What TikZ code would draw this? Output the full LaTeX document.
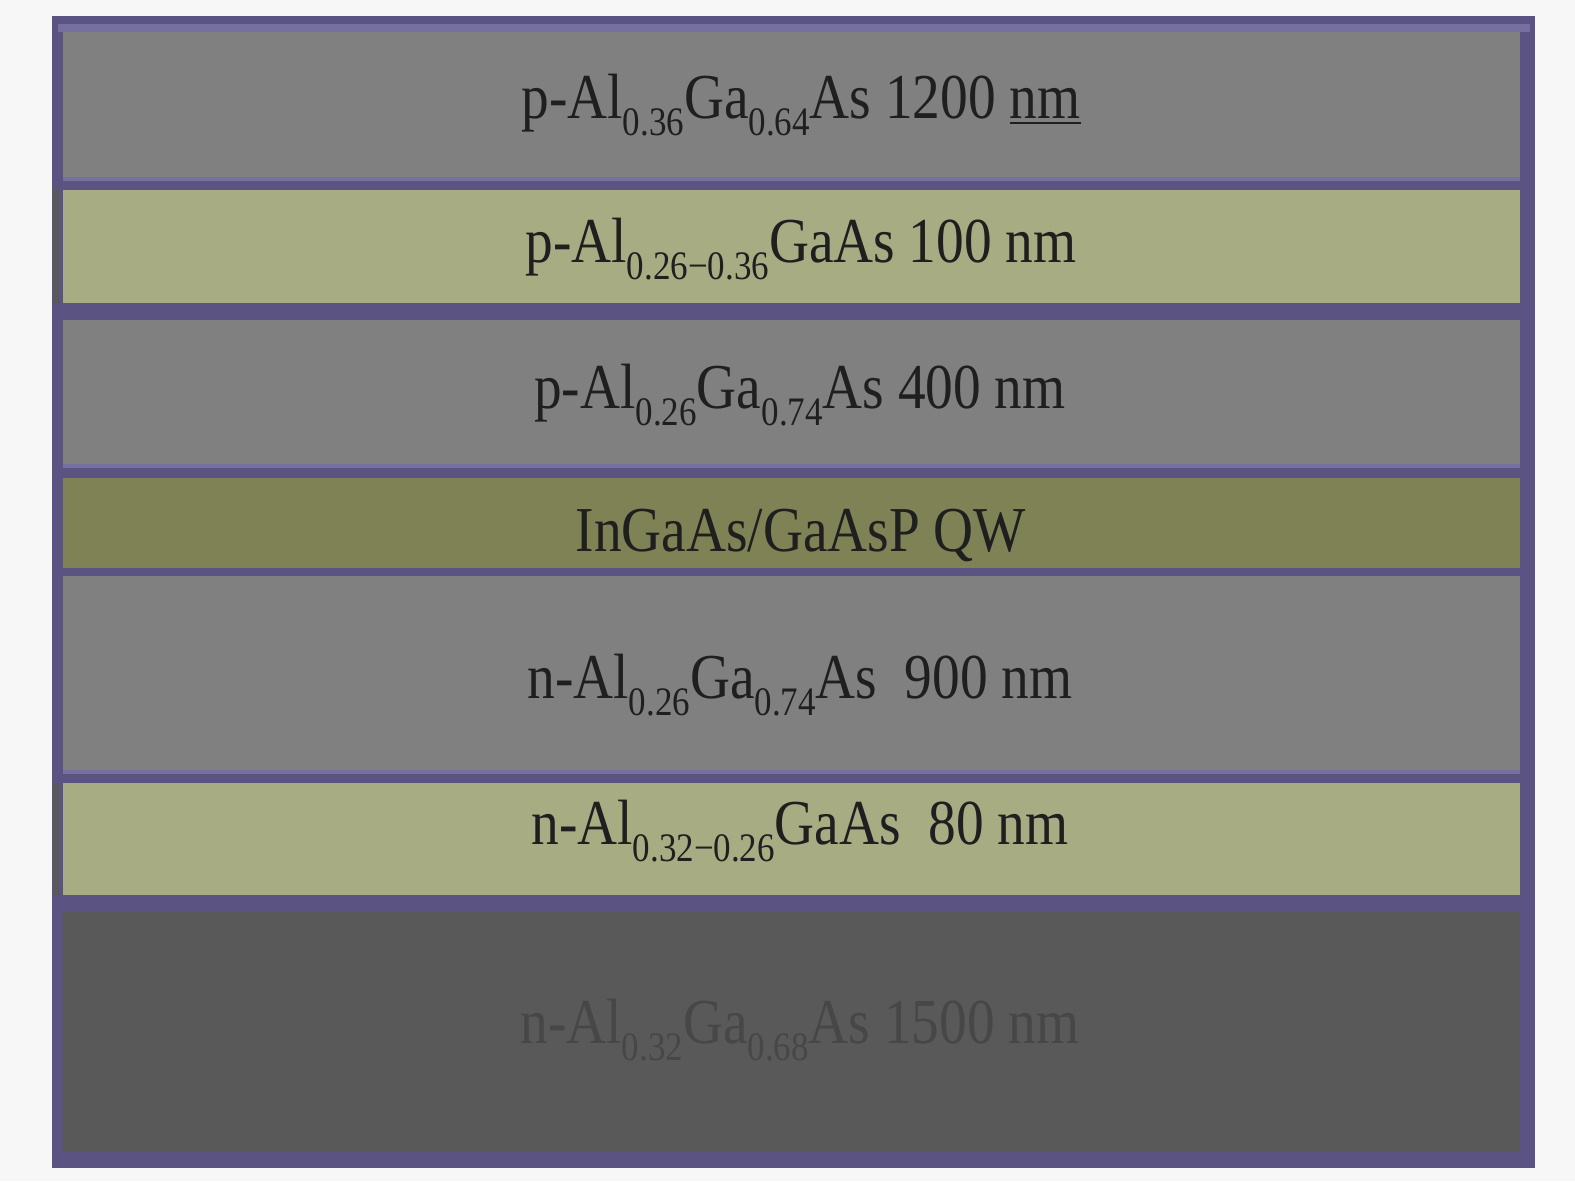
\documentclass[tikz,border=0pt]{standalone}
\usepackage{fontspec}
\setmainfont{Liberation Serif}
\usepackage{xcolor}
\definecolor{frame purple}{HTML}{5B5382}
\definecolor{light purple}{HTML}{7670A0}
\definecolor{clad grey}{HTML}{808080}
\definecolor{wave olive}{HTML}{A7AC82}
\definecolor{qw olive}{HTML}{7E8255}
\definecolor{sub grey}{HTML}{595959}
\newcommand{\layersub}[1]{\raisebox{-0.28em}{\fontsize{11.5}{11.5}\selectfont #1}}

\begin{document}
\begin{tikzpicture}[x=0.01cm,y=-0.01cm,
  layer label/.style={anchor=base,inner sep=0pt,text=black!88,
    xscale=0.865,transform shape,font=\fontsize{18.2}{20}\selectfont}]
\useasboundingbox [fill=black!3] (0,0) rectangle (1575,1181);
% frame and separators
\fill [frame purple] (52,16) rectangle (1535,1168);
\fill [light purple] (58,24) rectangle (1530,32);
% layers: top, bottom, colour
\foreach \top/\bot/\col in {32/177/clad grey, 190/303/wave olive, 320/464/clad grey,
  478/568/qw olive, 576/770/clad grey, 783/895/wave olive, 912/1152/sub grey}
  \fill [\col] (63,\top) rectangle (1520,\bot);
\foreach \y in {177,464,770}
  \fill [light purple] (63,\y) rectangle (1520,\y+4);
% dark left edge of the graded layers
\foreach \top/\bot in {190/303, 783/895}
  \fill [black!65] (53,\top) rectangle (59,\bot);
% labels
\node [layer label] (p clad) at (801,118)
  {p-Al\layersub{0.36}Ga\layersub{0.64}As 1200 \underline{nm}};
\node [layer label] (p grad) at (801,262)
  {p-Al\layersub{0.26−0.36}GaAs 100 nm};
\node [layer label] (p wave) at (800,408)
  {p-Al\layersub{0.26}Ga\layersub{0.74}As 400 nm};
\node [layer label] (qw) at (801,551) {InGaAs/GaAsP QW};
\node [layer label] (n wave) at (800,698)
  {n-Al\layersub{0.26}Ga\layersub{0.74}As \ 900 nm};
\node [layer label] (n grad) at (800,844)
  {n-Al\layersub{0.32−0.26}GaAs \ 80 nm};
\node [layer label,text=black!72] (n clad) at (800,1043)
  {n-Al\layersub{0.32}Ga\layersub{0.68}As 1500 nm};
\end{tikzpicture}
\end{document}
